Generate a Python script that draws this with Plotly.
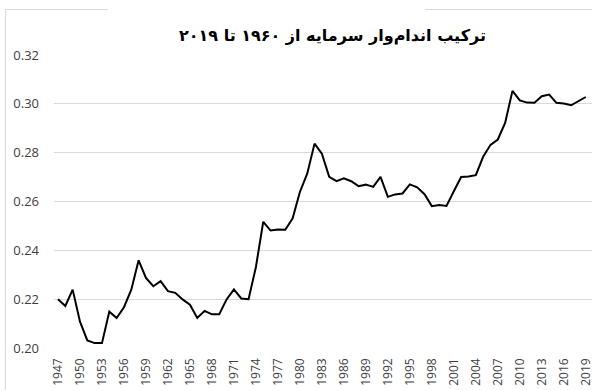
import plotly.graph_objects as go

# Annual series, 1947-2019
years = list(range(1947, 2020))
capital_share = [
    0.2200, 0.2172, 0.2239, 0.2108, 0.2031, 0.2020, 0.2020, 0.2149, 0.2123, 0.2167,
    0.2239, 0.2359, 0.2287, 0.2253, 0.2274, 0.2233, 0.2226, 0.2199, 0.2177, 0.2123,
    0.2152, 0.2138, 0.2138, 0.2199, 0.2240, 0.2203, 0.2200, 0.2332, 0.2517, 0.2481,
    0.2485, 0.2484, 0.2530, 0.2639, 0.2714, 0.2837, 0.2796, 0.2701, 0.2683, 0.2695,
    0.2683, 0.2663, 0.2669, 0.2660, 0.2701, 0.2619, 0.2629, 0.2633, 0.2670, 0.2658,
    0.2630, 0.2581, 0.2586, 0.2582, 0.2642, 0.2700, 0.2702, 0.2708, 0.2783, 0.2832,
    0.2854, 0.2922, 0.3053, 0.3014, 0.3005, 0.3004, 0.3031, 0.3038, 0.3004, 0.3001,
    0.2994, 0.3011, 0.3028,
]
x_ticks = years[::3]
y_ticks = [0.20, 0.22, 0.24, 0.26, 0.28, 0.30, 0.32]
title_text = "ترکیب اندام\u200cوار سرمایه از ۱۹۶۰ تا ۲۰۱۹"

W, H = 592, 390
L, R, T, B = 54, 0, 55, 42
pw, ph = W - L - R, H - T - B

def px_x(p):
    return (p - L) / pw

def px_y(p):
    return (H - B - p) / ph

fig = go.Figure()
fig.add_trace(go.Scatter(
    x=years, y=capital_share, mode="lines",
    line=dict(color="#000000", width=2),
    hoverinfo="x+y", showlegend=False,
))

grid = "#d9d9d9"
y_font = dict(family="Open Sans, sans-serif", size=13, color="#404040")
x_font = dict(family="Open Sans, sans-serif", size=12, color="#404040")

fig.update_layout(
    width=W, height=H,
    margin=dict(l=L, r=R, t=T, b=B, autoexpand=False),
    paper_bgcolor="white", plot_bgcolor="white",
    xaxis=dict(
        range=[1947 - 4 / 7.33, 1947 + (W - 58) / 7.33],
        tickmode="array", tickvals=x_ticks, ticktext=[str(v) for v in x_ticks],
        tickangle=-90, tickfont=x_font, showgrid=False, zeroline=False,
        showline=False, ticks="", automargin=False, ticklabelstandoff=7,
        ticklabeloverflow="allow",
    ),
    yaxis=dict(
        range=[0.20, 0.32], tickmode="array", tickvals=y_ticks,
        ticktext=[f"{v:.2f}" for v in y_ticks], tickfont=y_font,
        showgrid=True, gridcolor=grid, gridwidth=1, zeroline=False,
        showline=False, ticks="", automargin=False, ticklabelstandoff=14,
        ticklabeloverflow="allow",
    ),
    shapes=[
        dict(type="line", xref="paper", yref="paper", x0=px_x(5.5), x1=px_x(108),
             y0=px_y(9.5), y1=px_y(9.5), line=dict(color=grid, width=1)),
        dict(type="line", xref="paper", yref="paper", x0=px_x(425), x1=px_x(W),
             y0=px_y(9.5), y1=px_y(9.5), line=dict(color=grid, width=1)),
        dict(type="line", xref="paper", yref="paper", x0=px_x(5.5), x1=px_x(5.5),
             y0=px_y(9.5), y1=px_y(H), line=dict(color=grid, width=1)),
    ],
    annotations=[
        dict(text=f"<b>{title_text}</b>", xref="paper", yref="paper",
             x=px_x(332), y=px_y(35), xanchor="center", yanchor="middle",
             showarrow=False,
             font=dict(family="DejaVu Sans, sans-serif", size=16, color="#000000")),
    ],
)

fig.write_html("out.html")
